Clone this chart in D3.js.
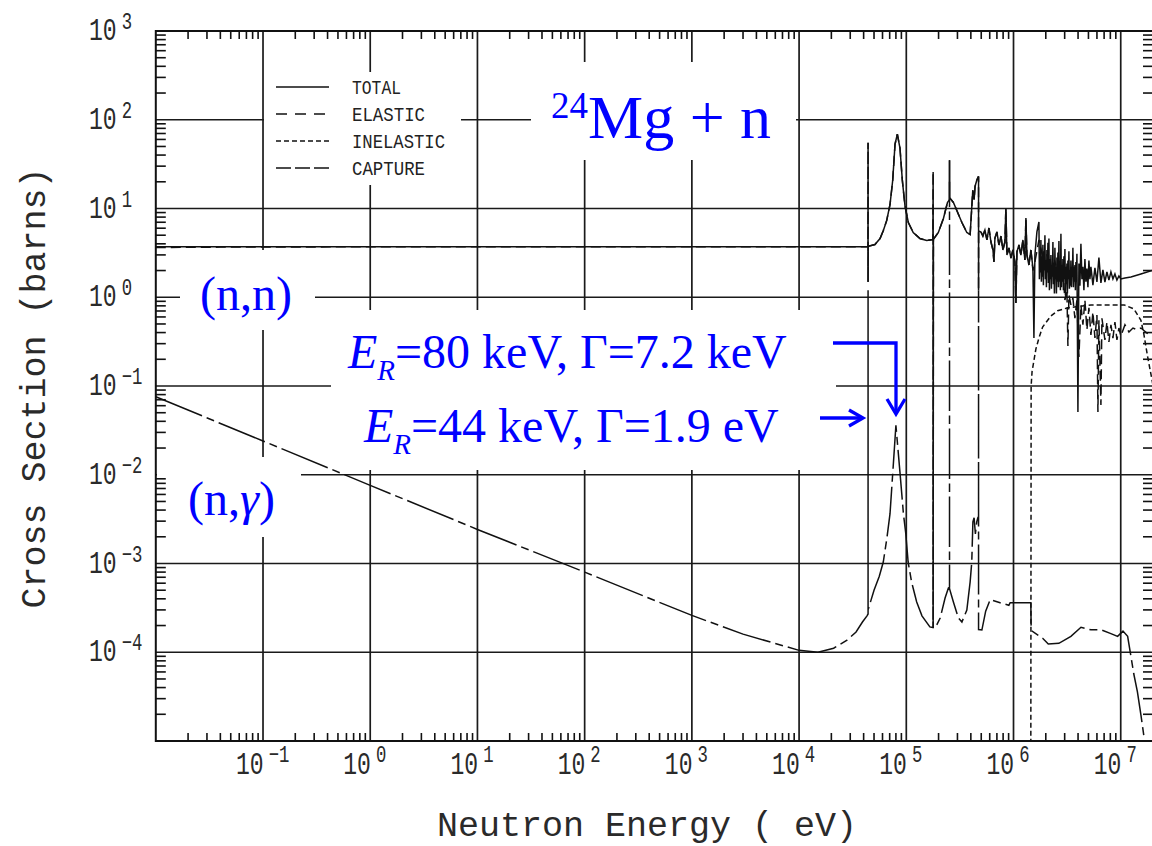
<!DOCTYPE html>
<html>
<head>
<meta charset="utf-8">
<script src="https://cdn.jsdelivr.net/npm/d3@7"></script>
<style>
  body { margin: 0; background: #fff; }
  svg { display: block; }
</style>
</head>
<body>
<svg id="chart" width="1152" height="846"></svg>
<script>
// ---- 24Mg + n evaluated cross sections: [energy (eV), cross section (barns)] ----

// Total cross section
const totalXS = [
  [1e-2, 3.71], [4.39e4, 3.71],
  [4.4e4, 55], [4.4e4, 1.49], [4.41e4, 3.75],
  [5.1e4, 3.93], [5.69e4, 4.59], [6.11e4, 5.65], [6.57e4, 7.35], [7.05e4, 11.1],
  [7.47e4, 20.8], [7.85e4, 53], [8.25e4, 69], [8.73e4, 48], [9.18e4, 20.9],
  [9.73e4, 10.6], [1.045e5, 6.95], [1.16e5, 5.37], [1.34e5, 4.59], [1.55e5, 4.37],
  [1.77e5, 4.47], [1.78e5, 25.8], [1.78e5, 1.87e-4], [1.79e5, 4.5],
  [1.99e5, 5.37], [2.22e5, 7.73], [2.42e5, 11.7],
  [2.53e5, 12.6], [2.53e5, 35], [2.53e5, 12.8],
  [2.56e5, 13.0], [2.75e5, 11.7], [2.96e5, 9.5], [3.30e5, 6.95], [3.67e5, 5.37],
  [3.94e5, 5.09], [4.17e5, 16], [4.29e5, 12.6], [4.38e5, 17.8], [4.54e5, 20.8],
  [4.72e5, 23], [4.72e5, 1.2], [4.73e5, 5.6],
  [4.97e5, 5.44], [5.18e5, 4.9], [5.41e5, 5.72], [5.65e5, 4.42], [5.90e5, 6.03],
  [6.16e5, 4.19], [6.43e5, 3.41], [6.57e5, 2.50], [6.71e5, 4.65], [7.00e5, 5.44],
  [7.31e5, 3.88], [7.63e5, 4.90], [7.96e5, 3.41], [8.31e5, 4.19], [8.49e5, 10.1],
  [8.68e5, 2.99], [9.06e5, 3.59], [9.46e5, 2.77], [9.87e5, 3.41], [1.031e6, 2.50],
  [1.053e6, 0.86], [1.076e6, 3.24], [1.123e6, 3.88], [1.172e6, 2.99], [1.224e6, 4.42],
  [1.277e6, 2.63], [1.305e6, 7.82], [1.334e6, 2.99], [1.392e6, 2.31], [1.453e6, 3.41],
  [1.517e6, 2.14], [1.550e6, 0.347], [1.583e6, 2.99], [1.653e6, 5.44], [1.726e6, 7.05],
  [1.744e6, 1.6], [1.763e6, 3.2], [1.782e6, 1.9], [1.801e6, 4.42], [1.820e6, 1.5],
  [1.840e6, 2.9], [1.860e6, 1.7], [1.880e6, 3.9], [1.900e6, 1.37], [1.921e6, 3.3],
  [1.942e6, 2.0], [1.963e6, 5.0], [1.984e6, 1.6], [2.006e6, 2.6], [2.027e6, 1.3],
  [2.049e6, 3.4], [2.071e6, 1.9], [2.094e6, 4.1], [2.116e6, 1.45], [2.139e6, 4.6],
  [2.162e6, 1.2], [2.186e6, 2.7], [2.209e6, 1.6], [2.233e6, 3.0], [2.257e6, 1.25],
  [2.282e6, 2.2], [2.306e6, 1.7], [2.331e6, 4.2], [2.356e6, 1.4], [2.382e6, 2.4],
  [2.407e6, 1.1], [2.433e6, 3.6], [2.460e6, 1.6], [2.486e6, 2.1], [2.513e6, 1.1],
  [2.540e6, 2.8], [2.567e6, 1.5], [2.595e6, 3.2], [2.623e6, 1.3], [2.651e6, 4.3],
  [2.680e6, 1.5], [2.709e6, 2.5], [2.738e6, 1.2], [2.768e6, 5.2], [2.798e6, 1.3],
  [2.828e6, 2.3], [2.858e6, 1.5], [2.889e6, 2.7], [2.920e6, 1.2], [2.952e6, 2.9],
  [2.984e6, 1.6], [3.016e6, 3.5], [3.049e6, 1.05], [3.082e6, 2.2], [3.115e6, 1.4],
  [3.148e6, 2.4], [3.182e6, 1.1], [3.217e6, 2.6], [3.252e6, 1.6], [3.287e6, 3.3],
  [3.322e6, 1.25], [3.358e6, 2.0], [3.394e6, 1.35], [3.431e6, 2.6], [3.468e6, 1.3],
  [3.505e6, 2.1], [3.543e6, 1.7], [3.581e6, 3.6], [3.620e6, 1.3], [3.659e6, 2.2],
  [3.698e6, 1.5], [3.738e6, 2.3], [3.779e6, 1.2], [3.820e6, 2.5], [3.861e6, 1.5],
  [3.903e6, 3.1], [3.988e6, 0.051], [4.074e6, 2.4],
  [4.163e6, 1.35], [4.253e6, 4.0], [4.346e6, 1.6], [4.440e6, 2.2], [4.536e6, 1.2],
  [4.634e6, 2.7], [4.735e6, 1.5], [4.838e6, 2.1], [4.943e6, 1.3], [5.050e6, 2.6],
  [5.160e6, 1.6], [5.272e6, 2.2], [5.503e6, 1.37], [5.745e6, 2.14], [5.998e6, 1.485],
  [6.260e6, 2.8], [6.535e6, 1.45], [6.823e6, 2.03], [7.122e6, 1.485], [7.435e6, 1.93],
  [7.761e6, 1.56], [8.102e6, 1.93], [8.458e6, 1.61], [8.830e6, 1.83], [9.218e6, 1.56],
  [9.621e6, 1.735], [1.004e7, 1.61], [1.095e7, 1.65], [1.245e7, 1.69], [1.543e7, 1.83],
  [2.04e7, 2.03]
];

// Elastic: below the resonance region and above the inelastic threshold
const elasticLowXS = [
  [1e-2, 3.634], [2e-2, 3.656], [4e-2, 3.672], [0.1, 3.686], [1, 3.702], [1e2, 3.709], [1e4, 3.71]
];
const elasticHighXS = [
  [1.517e6, 2.0], [1.583e6, 2.5], [1.726e6, 4.42], [1.880e6, 2.77], [2.049e6, 2.99],
  [2.233e6, 2.14], [2.433e6, 2.50], [2.651e6, 1.65], [2.889e6, 2.03], [3.016e6, 0.93],
  [3.148e6, 1.21], [3.217e6, 0.282], [3.287e6, 1.06], [3.431e6, 0.82], [3.581e6, 0.98],
  [3.738e6, 0.58], [3.903e6, 0.93], [4.074e6, 0.212], [4.253e6, 0.82], [4.440e6, 0.49],
  [4.634e6, 0.93], [4.838e6, 0.43], [5.050e6, 0.76], [5.272e6, 0.375], [5.503e6, 0.683],
  [5.745e6, 0.347], [5.998e6, 0.63], [6.128e6, 0.051], [6.260e6, 0.55], [6.535e6, 0.061],
  [6.677e6, 0.58], [7.122e6, 0.33], [7.435e6, 0.526], [7.761e6, 0.313], [8.102e6, 0.49],
  [8.458e6, 0.347], [8.830e6, 0.526], [9.218e6, 0.33], [9.621e6, 0.45], [1.004e7, 0.366],
  [1.095e7, 0.49], [1.193e7, 0.406], [1.300e7, 0.45], [1.416e7, 0.43], [1.543e7, 0.45],
  [1.756e7, 0.395], [2.04e7, 0.366]
];

// Inelastic scattering (threshold near 1.45 MeV)
const inelasticXS = [
  [1.45e6, 5e-6], [1.46e6, 0.10], [1.49e6, 0.146], [1.617e6, 0.261], [1.726e6, 0.347],
  [1.868e6, 0.462], [2.233e6, 0.615], [2.579e6, 0.705], [3.196e6, 0.76], [5.272e6, 0.82],
  [1.076e7, 0.82], [1.328e7, 0.738], [1.543e7, 0.55], [1.646e7, 0.379], [1.782e7, 0.214],
  [2.04e7, 0.09]
];

// Radiative capture (n,gamma)
const captureXS = [
  [1e-2, 0.0757], [0.1, 0.0240], [1, 0.0076], [10, 0.00242], [1e2, 8.0e-4], [1e3, 2.6e-4],
  [3e3, 1.6e-4], [1e4, 1.05e-4], [1.5e4, 1.0e-4], [2.1e4, 1.11e-4], [2.8e4, 1.37e-4],
  [3.4e4, 1.69e-4], [3.9e4, 2.19e-4], [4.3e4, 2.57e-4],
  [4.4e4, 2.7e-4], [4.4e4, 1.2], [4.4e4, 3.0e-4],
  [5.0e4, 5.0e-4], [5.6e4, 7.2e-4], [6.1e4, 1.04e-3], [6.6e4, 1.95e-3], [7.05e4, 3.64e-3],
  [7.6e4, 0.0141], [8.0e4, 0.036], [8.75e4, 0.0103], [9.4e4, 3.64e-3], [9.9e4, 2.15e-3],
  [1.04e5, 1.04e-3], [1.12e5, 6.2e-4], [1.25e5, 3.68e-4], [1.4e5, 2.57e-4], [1.66e5, 1.93e-4],
  [1.86e5, 1.87e-4], [2.07e5, 2.43e-4], [2.3e5, 4.08e-4], [2.47e5, 5.3e-4],
  [2.53e5, 5.4e-4], [2.53e5, 20], [2.53e5, 5.2e-4],
  [2.75e5, 3.68e-4], [3.06e5, 2.43e-4], [3.3e5, 2.19e-4], [3.67e5, 2.99e-4], [3.94e5, 6.2e-4],
  [4.08e5, 1.04e-3], [4.18e5, 2.95e-3], [4.29e5, 3.28e-3], [4.41e5, 2.15e-3], [4.54e5, 2.95e-3],
  [4.72e5, 3.5e-3], [4.72e5, 1.2], [4.72e5, 1.8e-4],
  [5.07e5, 1.78e-4], [5.5e5, 2.9e-4], [6.06e5, 3.91e-4], [7.5e5, 3.61e-4], [9.05e5, 3.38e-4],
  [9.3e5, 3.61e-4], [1.45e6, 3.61e-4], [1.46e6, 2.0e-4], [1.49e6, 1.73e-4], [1.88e6, 1.43e-4],
  [2.11e6, 1.24e-4], [2.65e6, 1.26e-4], [3.43e6, 1.51e-4], [4.26e6, 1.91e-4], [5.27e6, 1.79e-4],
  [6.54e6, 1.79e-4], [8.1e6, 1.62e-4], [9.35e6, 1.51e-4], [1.05e7, 1.73e-4], [1.16e7, 1.51e-4],
  [1.24e7, 9.3e-5], [1.32e7, 5.8e-5], [1.43e7, 3.6e-5], [1.54e7, 2.0e-5], [1.66e7, 1.05e-5],
  [1.8e7, 5e-6]
];

// Axis decades that carry a label
const xLabelExponents = [-1, 0, 1, 2, 3, 4, 5, 6, 7];
const yLabelExponents = [3, 2, 1, 0, -1, -2, -3, -4];
const legendLabels = ["TOTAL", "ELASTIC", "INELASTIC", "CAPTURE"];

// ---- layout ----
const plot = { left: 155.8, right: 1153, top: 31, bottom: 741 };
const x = d3.scaleLog().domain([1e-2, 2e7]).range([plot.left, plot.right]);
const y = d3.scaleLog().domain([1e-5, 1e3]).range([plot.bottom, plot.top]);

const ink = "#111";
const blue = "#0000ff";
const mono = "'Liberation Mono', 'DejaVu Sans Mono', monospace";
const serif = "'Liberation Serif', 'Times New Roman', serif";

const svg = d3.select("#chart");

// Elastic through the resolved-resonance range follows the total
const elasticXS = elasticLowXS
  .concat(totalXS.filter(d => d[0] > 1e4 && d[0] <= 1.46e6))
  .concat(elasticHighXS);

const minus = s => String(s).replace("-", "\u2212");

// ---- grid ----
const grid = svg.append("g").attr("stroke", "#1a1a1a").attr("stroke-width", 1.7);
xLabelExponents.forEach(e => {
  grid.append("line")
    .attr("x1", x(Math.pow(10, e))).attr("x2", x(Math.pow(10, e)))
    .attr("y1", plot.top).attr("y2", plot.bottom);
});
yLabelExponents.filter(e => e < 3).forEach(e => {
  grid.append("line")
    .attr("x1", plot.left).attr("x2", plot.right)
    .attr("y1", y(Math.pow(10, e))).attr("y2", y(Math.pow(10, e)));
});

// ---- white panels behind the annotations ----
const panels = [
  [264, 72, 197, 113],   // legend
  [531, 62, 265, 98],    // title
  [180, 250, 135, 80],   // (n,n)
  [331, 310, 505, 160],  // resonance notes
  [157, 457, 144, 80]    // (n,gamma)
];
svg.append("g").selectAll("rect").data(panels).join("rect")
  .attr("x", d => d[0]).attr("y", d => d[1])
  .attr("width", d => d[2]).attr("height", d => d[3])
  .attr("fill", "#fff");

// ---- curves ----
svg.append("clipPath").attr("id", "plot-clip").append("rect")
  .attr("x", plot.left).attr("y", plot.top)
  .attr("width", plot.right - plot.left).attr("height", plot.bottom - plot.top);

const line = d3.line().x(d => x(d[0])).y(d => y(d[1]));
const curves = svg.append("g").attr("clip-path", "url(#plot-clip)")
  .attr("fill", "none").attr("stroke", ink).attr("stroke-width", 1.5)
  .attr("stroke-linejoin", "miter");

curves.append("path").datum(captureXS).attr("d", line).attr("stroke-dasharray", "50,5,8,5");
curves.append("path").datum(inelasticXS).attr("d", line).attr("stroke-dasharray", "5,3");
curves.append("path").datum(elasticXS).attr("d", line).attr("stroke-dasharray", "10,5");
curves.append("path").datum(totalXS).attr("d", line);

// ---- frame and minor ticks ----
const frame = svg.append("g").attr("stroke", "#111").attr("stroke-width", 2);
frame.append("rect")
  .attr("x", plot.left).attr("y", plot.top)
  .attr("width", plot.right - plot.left).attr("height", plot.bottom - plot.top)
  .attr("fill", "none");

const ticks = svg.append("g").attr("stroke", "#111").attr("stroke-width", 1.6);
for (let e = -2; e <= 7; e++) {
  for (let k = 2; k <= 9; k++) {
    const v = k * Math.pow(10, e);
    if (v >= 2e7) continue;
    ticks.append("line").attr("x1", x(v)).attr("x2", x(v)).attr("y1", plot.top).attr("y2", plot.top + 8);
    ticks.append("line").attr("x1", x(v)).attr("x2", x(v)).attr("y1", plot.bottom).attr("y2", plot.bottom - 8);
  }
}
for (let e = -5; e <= 2; e++) {
  for (let k = 2; k <= 9; k++) {
    const v = k * Math.pow(10, e);
    ticks.append("line").attr("x1", plot.left).attr("x2", plot.left + 10).attr("y1", y(v)).attr("y2", y(v));
    ticks.append("line").attr("x1", plot.right).attr("x2", plot.right - 10).attr("y1", y(v)).attr("y2", y(v));
  }
}

// ---- tick labels: "10" with a raised exponent, narrow plotter lettering ----
const labels = svg.append("g").attr("font-family", mono).attr("fill", "#2a2a2a");
function powerLabel(tx, ty, exp, expRise) {
  const t = labels.append("text")
    .attr("transform", `translate(${tx},${ty}) scale(0.72,1)`)
    .attr("font-size", 32);
  t.append("tspan").text("10");
  t.append("tspan").attr("dx", 7).attr("dy", -expRise).attr("font-size", 24).text(minus(exp));
}
xLabelExponents.forEach(e => {
  const px = x(Math.pow(10, e));
  powerLabel(px - 27, 774, e, 12);
});
yLabelExponents.forEach(e => {
  const py = y(Math.pow(10, e));
  powerLabel(89, py + 9, e, 11);
});

// ---- axis titles ----
labels.append("text").attr("x", 437).attr("y", 836).attr("font-size", 35).text("Neutron Energy ( eV)");
labels.append("text").attr("transform", "translate(45,388) rotate(-90)")
  .attr("text-anchor", "middle").attr("font-size", 35).text("Cross Section (barns)");

// ---- legend ----
const legendDash = [null, "11,8", "5,3", "15,4"];
const legendWidths = [49, 73, 93, 73];
const legend = svg.append("g");
legendLabels.forEach((name, i) => {
  const ly = 87 + i * 27;
  legend.append("line").attr("x1", 276).attr("x2", 329).attr("y1", ly).attr("y2", ly)
    .attr("stroke", ink).attr("stroke-width", 1.5)
    .attr("stroke-dasharray", legendDash[i]);
  legend.append("text").attr("x", 352).attr("y", ly + 7)
    .attr("font-family", mono).attr("font-size", 21).attr("fill", "#222")
    .attr("textLength", legendWidths[i]).attr("lengthAdjust", "spacingAndGlyphs")
    .text(name);
});

// ---- annotations ----
const notes = svg.append("g").attr("font-family", serif).attr("fill", blue);

const title = notes.append("text").attr("x", 551).attr("y", 138);
title.append("tspan").attr("font-size", 37).attr("dy", -20).text("24");
title.append("tspan").attr("font-size", 62).attr("dy", 20).text("Mg + n");

notes.append("text").attr("x", 200).attr("y", 310).attr("font-size", 48).text("(n,n)");

const ng = notes.append("text").attr("x", 188).attr("y", 515).attr("font-size", 48);
ng.append("tspan").text("(n,");
ng.append("tspan").attr("font-style", "italic").text("\u03b3");
ng.append("tspan").text(")");

function resonanceNote(xPos, yPos, rest) {
  const t = notes.append("text").attr("x", xPos).attr("y", yPos).attr("font-size", 48);
  t.append("tspan").attr("font-style", "italic").text("E");
  t.append("tspan").attr("font-style", "italic").attr("font-size", 29).attr("dy", 12).text("R");
  t.append("tspan").attr("dy", -12).text(rest);
}
resonanceNote(348, 368, "=80 keV, \u0393=7.2 keV");
resonanceNote(364, 442, "=44 keV, \u0393=1.9 eV");

const arrows = svg.append("g").attr("stroke", blue).attr("stroke-width", 3.3)
  .attr("fill", "none").attr("stroke-linejoin", "miter");
arrows.append("path").attr("d", "M833,343 H896 V412");
arrows.append("path").attr("d", "M887,399 L896,414 L905,399");
arrows.append("path").attr("d", "M820,418 H861");
arrows.append("path").attr("d", "M849,410 L863,418 L849,426");
</script>
</body>
</html>
